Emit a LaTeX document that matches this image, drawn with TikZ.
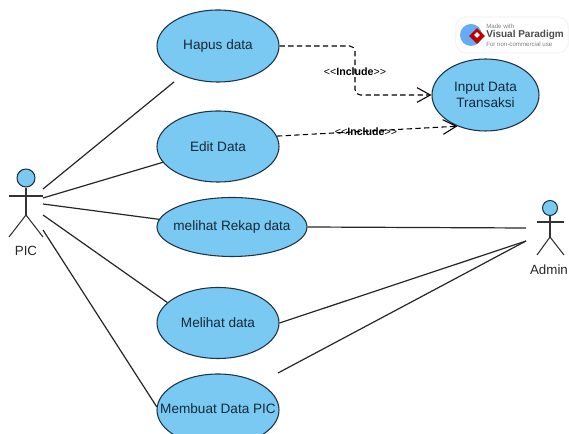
\documentclass[tikz,border=0pt]{standalone}
\usepackage{fontspec}
\setmainfont{Liberation Sans}
\usetikzlibrary{shapes.geometric,arrows.meta}
\definecolor{usecase}{HTML}{79C9F2}
\definecolor{edge}{HTML}{1C3347}
\newcommand{\inclabel}{<\kern0pt<\textbf{Include}>\kern0pt>}
\begin{document}
\begin{tikzpicture}[x=0.75pt,y=-0.75pt,
	case/.style = {draw=edge, ellipse, fill=usecase, line width=0.8pt, inner xsep=-20pt, inner ysep=-5pt, align=center, font=\fontsize{10.2pt}{12pt}\selectfont, text=edge!80!black},
	head/.style = {draw=edge, circle, fill=usecase, line width=0.8pt, inner sep=0pt},
	limb/.style = {draw=black!80, line width=0.8pt},
	link/.style = {draw=black!85, line width=0.9pt},
	incl/.style = {draw=black, line width=0.8pt, dashed, dash pattern=on 4pt off 2.5pt, rounded corners=4pt, -{Straight Barb[length=10pt,width=11pt]}},
	inclab/.style = {inner sep=0pt, font=\fontsize{8pt}{10pt}\selectfont},
	actor/.style = {inner sep=0pt, font=\fontsize{10pt}{12pt}\selectfont, text=black!85}]
	\useasboundingbox (0,0) rectangle (569,434);
	\node[case, minimum width=122*0.75pt, minimum height=72*0.75pt] (hapus) at (218,46) {\raisebox{-1.5pt}{Hapus data}};
	\node[case, minimum width=122*0.75pt, minimum height=71*0.75pt] (edit) at (218,146.5) {Edit Data};
	\node[case, minimum width=150*0.75pt, minimum height=59*0.75pt] (rekap) at (232,227) {melihat Rekap data};
	\node[case, minimum width=122*0.75pt, minimum height=71*0.75pt] (lihat) at (218,323) {Melihat data};
	\node[case, minimum width=122*0.75pt, minimum height=72*0.75pt] (buat) at (218,410) {\raisebox{2.5pt}{Membuat Data PIC}};
	\node[case, minimum width=107*0.75pt, minimum height=72*0.75pt] (input) at (485.5,95) {Input Data\\Transaksi};
	% PIC
	\node[head, minimum size=18*0.75pt] (pic) at (26,178) {};
	\coordinate (pichip) at (26,215);
	\coordinate (picarml) at (9,196);
	\coordinate (picarmr) at (43,196);
	\coordinate (piclegl) at (9,237);
	\coordinate (piclegr) at (43,237);
	\draw[limb] (pic) -- (pichip);
	\draw[limb] (picarml) -- (picarmr);
	\draw[limb] (piclegl) -- (pichip) -- (piclegr);
	\node[actor] (picname) at (26,251) {PIC};
	% Admin
	\node[head, minimum size=15*0.75pt] (admin) at (550,208) {};
	\coordinate (adminhip) at (550,237);
	\coordinate (adminarml) at (537,222);
	\coordinate (adminarmr) at (564,222);
	\coordinate (adminlegl) at (537,255);
	\coordinate (adminlegr) at (564,255);
	\draw[limb] (admin) -- (adminhip);
	\draw[limb] (adminarml) -- (adminarmr);
	\draw[limb] (adminlegl) -- (adminhip) -- (adminlegr);
	\node[actor] (adminname) at (549,270) {Admin};
	% free ends next to the actors
	\coordinate (pica) at (43,189);
	\coordinate (picb) at (43,198);
	\coordinate (picc) at (43,204);
	\coordinate (picd) at (43,215);
	\coordinate (pice) at (43,230);
	\coordinate (admina) at (526,228);
	\coordinate (adminb) at (526,241);
	\coordinate (hapusend) at (174,82);
	\coordinate (buatend) at (278,373);
	\draw[link] (pica) -- (hapusend);
	\draw[link] (picb) -- (edit.196);
	\draw[link] (picc) -- (rekap.174);
	\draw[link] (picd) -- (lihat.158);
	\draw[link] (pice) -- (buat.177);
	\draw[link] (rekap.east) -- (admina);
	\draw[link] (lihat.east) -- (adminb);
	\draw[link] (buatend) -- (adminb);
	% include
	\node[inclab] (inca) at (355,72) {\inclabel};
	\node[inclab] (incb) at (366,132) {\inclabel};
	\draw[incl] (hapus.east) -| (inca.center) |- (input.west);
	\draw[incl] (edit.10) -- (input.228);
	% watermark
	\node[draw=black!4, fill=white, rounded corners=8pt, line width=1pt, minimum width=113*0.75pt, minimum height=36*0.75pt, inner sep=0pt] (mark) at (512,35) {};
	\node[circle, fill=usecase!85!blue, minimum size=22*0.75pt, inner sep=0pt] (globe) at (471,35) {};
	\node[diamond, fill=red!75!black, minimum size=16*0.75pt, inner sep=0pt] (gem) at (477,36) {};
	\node[diamond, fill=white, minimum size=6*0.75pt, inner sep=0pt] (gemcut) at (477,35) {};
	\node[inner sep=0pt, anchor=west, font=\fontsize{4.6pt}{5pt}\selectfont, text=black!50] (made) at (486,26) {Made with};
	\node[inner sep=0pt, anchor=west, font=\fontsize{7.5pt}{8pt}\selectfont\bfseries, text=black!70] (vp) at (486,35) {Visual Paradigm};
	\node[inner sep=0pt, anchor=west, font=\fontsize{4.6pt}{5pt}\selectfont, text=black!50] (use) at (486,44) {For non-commercial use};
\end{tikzpicture}
\end{document}
